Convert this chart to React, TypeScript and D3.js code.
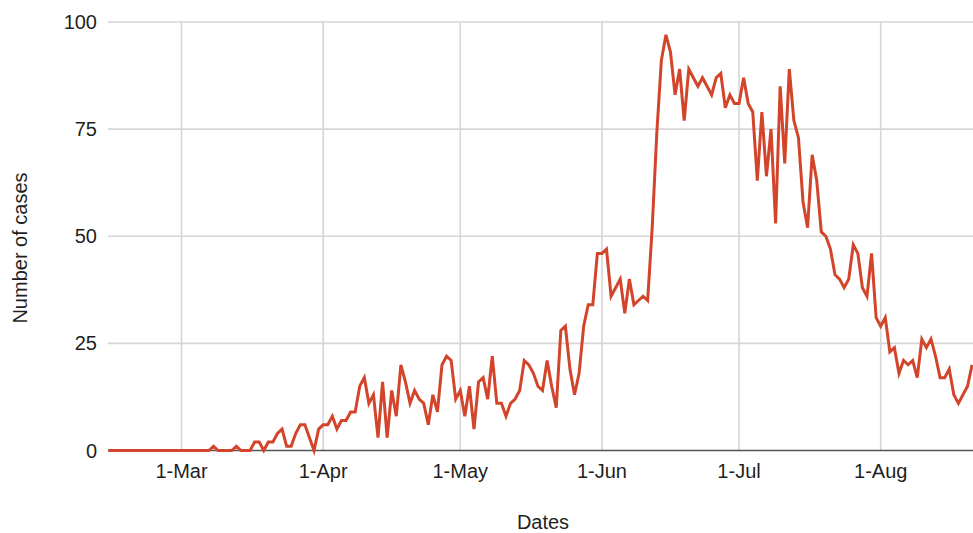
import React from "react";
import * as d3 from "d3";

const WIDTH = 973;
const HEIGHT = 533;

// Daily case counts, 2020 (first day: 14 Feb)
const febCases = [0, 0, 0, 0, 0, 0, 0, 0, 0, 0, 0, 0, 0, 0, 0, 0];
const marCases = [
  0, 0, 0, 0, 0, 0, 0, 1, 0, 0, 0, 0, 1, 0, 0, 0,
  2, 2, 0, 2, 2, 4, 5, 1, 1, 4, 6, 6, 3, 0, 5,
];
const aprCases = [
  6, 6, 8, 5, 7, 7, 9, 9, 15, 17, 11, 13, 3, 16, 3,
  14, 8, 20, 16, 11, 14, 12, 11, 6, 13, 9, 20, 22, 21, 12,
];
const mayCases = [
  14, 8, 15, 5, 16, 17, 12, 22, 11, 11, 8, 11, 12, 14, 21, 20,
  18, 15, 14, 21, 15, 10, 28, 29, 19, 13, 18, 29, 34, 34, 46,
];
const junCases = [
  46, 47, 36, 38, 40, 32, 40, 34, 35, 36, 35, 52, 74, 91, 97,
  93, 83, 89, 77, 89, 87, 85, 87, 85, 83, 87, 88, 80, 83, 81,
];
const julCases = [
  81, 87, 81, 79, 63, 79, 64, 75, 53, 85, 67, 89, 77, 73, 58, 52,
  69, 63, 51, 50, 47, 41, 40, 38, 40, 48, 46, 38, 36, 46, 31,
];
const augCases = [
  29, 31, 23, 24, 18, 21, 20, 21, 17, 26, 24, 26, 22, 17, 17,
  19, 13, 11, 13, 15, 20,
];

const firstDay = new Date(Date.UTC(2020, 1, 14));
const monthTicks = ["2020-03-01", "2020-04-01", "2020-05-01", "2020-06-01", "2020-07-01", "2020-08-01"];
const yTicks = [0, 25, 50, 75, 100];

const xAxisTitle = "Dates";
const yAxisTitle = "Number of cases";

const allCases = [...febCases, ...marCases, ...aprCases, ...mayCases, ...junCases, ...julCases, ...augCases];
const series = allCases.map((value, i) => ({ date: d3.utcDay.offset(firstDay, i), value }));

const plot = { left: 108.4, right: 972.1, top: 22, bottom: 450.5, gridRight: 973 };
const FONT = "'Liberation Sans', Arial, Helvetica, sans-serif";
const LINE_COLOR = "#d2452b";
const TEXT_SIZE = 20;

export default function App() {
  const x = d3
    .scaleUtc()
    .domain(d3.extent(series, (d) => d.date) as [Date, Date])
    .range([plot.left, plot.right]);
  const y = d3.scaleLinear().domain([0, 100]).range([plot.bottom, plot.top]);

  const line = d3
    .line<{ date: Date; value: number }>()
    .x((d) => x(d.date))
    .y((d) => y(d.value));

  const fmt = d3.utcFormat("%-d-%b");
  const ticks = monthTicks.map((s) => new Date(s + "T00:00:00Z"));

  return (
    <svg
      width={WIDTH}
      height={HEIGHT}
      style={{ position: "absolute", left: 0, top: 0, background: "#fff" }}
      fontFamily={FONT}
    >
      <rect width={WIDTH} height={HEIGHT} fill="#fff" />
      {/* horizontal gridlines */}
      {yTicks
        .filter((t) => t !== 0)
        .map((t) => (
          <line
            key={"h" + t}
            x1={plot.left - 0.4}
            x2={plot.gridRight}
            y1={y(t)}
            y2={y(t)}
            stroke="#d6d6d6"
            strokeWidth={1.6}
          />
        ))}
      {/* vertical gridlines at month starts */}
      {ticks.map((d) => (
        <line
          key={"v" + d.getTime()}
          x1={x(d)}
          x2={x(d)}
          y1={plot.top}
          y2={plot.bottom}
          stroke="#d6d6d6"
          strokeWidth={1.6}
        />
      ))}
      {/* baseline */}
      <line
        x1={plot.left - 0.4}
        x2={plot.gridRight}
        y1={y(0)}
        y2={y(0)}
        stroke="#555"
        strokeWidth={1.6}
      />
      {/* y tick labels */}
      {yTicks.map((t) => (
        <text
          key={"yl" + t}
          x={97}
          y={y(t)}
          dy="0.35em"
          textAnchor="end"
          fontSize={TEXT_SIZE}
          fill="#1f1f1f"
        >
          {t}
        </text>
      ))}
      {/* x tick labels */}
      {ticks.map((d) => (
        <text
          key={"xl" + d.getTime()}
          x={x(d)}
          y={478}
          textAnchor="middle"
          fontSize={TEXT_SIZE}
          fill="#1f1f1f"
        >
          {fmt(d)}
        </text>
      ))}
      {/* axis titles */}
      <text x={543} y={529} textAnchor="middle" fontSize={TEXT_SIZE} fill="#1f1f1f">
        {xAxisTitle}
      </text>
      <text
        transform={`translate(27, 248) rotate(-90)`}
        textAnchor="middle"
        fontSize={TEXT_SIZE}
        fill="#1f1f1f"
      >
        {yAxisTitle}
      </text>
      {/* case series */}
      <path
        d={line(series) ?? ""}
        fill="none"
        stroke={LINE_COLOR}
        strokeWidth={3}
        strokeLinejoin="miter"
        strokeMiterlimit={4}
      />
    </svg>
  );
}
